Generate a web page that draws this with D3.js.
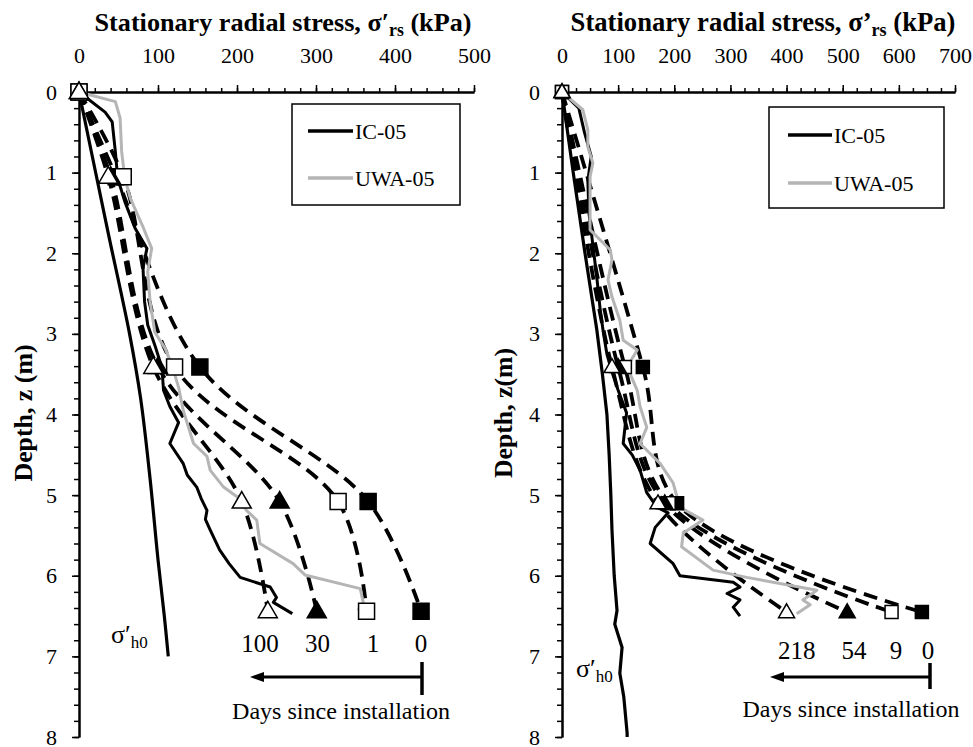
<!DOCTYPE html>
<html>
<head>
<meta charset="utf-8">
<script src="https://cdn.jsdelivr.net/npm/d3@7"></script>
<style>
  body { margin: 0; background: #fff; }
  svg text { font-family: "Liberation Serif", "Times New Roman", serif; fill: #000; }
</style>
</head>
<body>
<svg id="chart" width="973" height="747"></svg>
<script>
// ----------------------------------------------------------------------------
// Data (stress in kPa, depth in m)
// ----------------------------------------------------------------------------

// Left pile: marker depths and stationary stress per time since installation
var leftMarkDepths = [0, 1.05, 3.41, 5.08, 6.44];
var leftDayLabels = ["0", "1", "30", "100"];
var leftDay0 = [0, 47, 153, 366, 433];
var leftDay1 = [0, 56, 121, 328, 364];
var leftDay30 = [0, 40, 100, 254, 301];
var leftDay100 = [0, 37, 94, 206, 239];
var leftDayLabelAt = [433, 372, 302, 229];

// Left pile: measured profiles [stress, depth]
var leftIC = [[0,0],[33,0.25],[42,0.37],[46,0.74],[49,1.07],[58,1.36],[71,1.69],[86,1.94],
  [81,2.18],[83,2.6],[87,2.89],[96,3.14],[105,3.42],[107,3.7],[115,3.9],[126,4.1],[115,4.36],
  [132,4.61],[137,4.75],[149,4.9],[155,5.05],[162,5.19],[160,5.3],[166,5.43],[178,5.68],
  [190,5.85],[204,6.02],[242,6.14],[250,6.27],[246,6.33],[270,6.47]];
var leftUWA = [[0,0],[46,0.12],[52,0.32],[54,0.74],[58,1.07],[65,1.32],[80,1.65],[92,1.94],
  [87,2.23],[90,2.6],[96,2.98],[109,3.18],[118,3.4],[126,3.66],[132,3.95],[145,4.36],
  [162,4.52],[166,4.69],[183,4.9],[200,5.02],[212,5.19],[225,5.31],[229,5.6],[271,5.85],
  [286,5.99],[356,6.16],[360,6.34],[353,6.43]];
var leftH0 = [[0,0],[37,1.75],[64,3.0],[78,3.8],[90,4.8],[100,5.8],[108,6.5],[113,7.0]];

// Right pile
var rightMarkDepths = [0, 3.41, 5.1, 6.45];
var rightDayLabels = ["0", "9", "54", "218"];
var rightDay0 = [0, 144, 205, 641];
var rightDay9 = [0, 112, 190, 587];
var rightDay54 = [0, 100, 183, 508];
var rightDay218 = [0, 89, 171, 400];
var rightDayLabelAt = [652, 595, 520, 418];

var rightIC = [[0,0],[30,0.2],[40,0.5],[52,0.8],[46,1.1],[48,1.5],[55,1.9],[62,2.3],[68,2.7],
  [74,3.0],[80,3.25],[88,3.45],[100,3.7],[115,3.98],[109,4.36],[125,4.5],[139,4.69],[151,4.97],
  [169,5.15],[189,5.22],[166,5.4],[157,5.6],[198,5.85],[210,6.0],[305,6.08],[317,6.14],
  [294,6.22],[317,6.3],[305,6.39],[317,6.5]];
var rightUWA = [[0,0],[37,0.22],[46,0.47],[46,0.68],[55,0.88],[50,1.05],[50,1.71],[86,1.96],
  [89,2.08],[82,2.33],[89,2.54],[103,2.83],[109,3.08],[134,3.2],[116,3.41],[134,3.7],[139,3.9],
  [151,4.16],[139,4.36],[175,4.61],[198,4.85],[210,5.15],[251,5.31],[216,5.47],[213,5.64],
  [269,5.93],[329,6.02],[454,6.18],[429,6.3],[442,6.36],[418,6.47]];
var rightH0 = [[0,0],[20,1],[41,2],[62,2.95],[72,3.5],[80,4.0],[84,4.5],[87,5.0],[89,5.43],
  [93,6.0],[98,6.43],[94,6.6],[107,6.89],[103,7.21],[110,7.5],[116,7.95],[116,8.0]];

var seriesNames = ["IC-05", "UWA-05"];

// ----------------------------------------------------------------------------
// Panel layout
// ----------------------------------------------------------------------------

var FONT = "'Liberation Serif', 'Times New Roman', serif";
var FS = "22px";

var panels = [
  {
    xMax: 500, xMinor: 20, left: 79, right: 474, prime: "\u2032",
    titleX: 283, titleW: 377, yLabel: "Depth, z (m)", yLabelX: 32, yLabelW: 137,
    depths: leftMarkDepths, days: [leftDay0, leftDay1, leftDay30, leftDay100],
    dayLabels: leftDayLabels, dayLabelAt: leftDayLabelAt, dayLabelY: 652,
    ic: leftIC, uwa: leftUWA, h0: leftH0, h0Smooth: true, h0Label: [111, 643],
    sq: 16, tri: 19,
    legend: {x: 292, y: 104, w: 168, h: 101, line0: 308, line1: 353, rowA: 131, rowB: 178},
    arrow: {x0: 250, x1: 422, y: 677, barTop: 662, barBot: 695},
    daysText: [341, 719], daysW: 218
  },
  {
    xMax: 700, xMinor: 25, left: 562, right: 955, prime: "\u2019",
    titleX: 763, titleW: 385, yLabel: "Depth, z(m)", yLabelX: 512, yLabelW: 130,
    depths: rightMarkDepths, days: [rightDay0, rightDay9, rightDay54, rightDay218],
    dayLabels: rightDayLabels, dayLabelAt: rightDayLabelAt, dayLabelY: 659,
    ic: rightIC, uwa: rightUWA, h0: rightH0, h0Smooth: false, h0Label: [576, 677],
    sq: 13, tri: 16,
    legend: {x: 769, y: 107, w: 175, h: 101, line0: 788, line1: 832, rowA: 135, rowB: 183},
    arrow: {x0: 770, x1: 930, y: 677, barTop: 663, barBot: 689},
    daysText: [851, 717], daysW: 217
  }
];

var svg = d3.select("#chart");

// Marker styles for the four time series: filled square, open square,
// filled triangle, open triangle.
var markerTypes = [
  {shape: d3.symbolSquare, fill: "#000"},
  {shape: d3.symbolSquare, fill: "#fff"},
  {shape: d3.symbolTriangle, fill: "#000"},
  {shape: d3.symbolTriangle, fill: "#fff"}
];

function styleAxis(g) {
  g.attr("font-family", null).attr("font-size", null);
  g.select(".domain").attr("stroke", "#000").attr("stroke-width", 2);
  g.selectAll(".tick line").attr("stroke", "#000").attr("stroke-width", 1.5);
  g.selectAll(".tick text").style("font-size", FS).style("font-family", FONT);
}

function addText(g) {
  return g.append("text").style("font-family", FONT).style("font-size", FS);
}

// Scale a text's font size so that it spans the wanted width.
function fitWidth(sel, want) {
  var base = parseFloat(sel.style("font-size"));
  var w = sel.node().getComputedTextLength();
  if (w > 0) sel.style("font-size", (base * want / w).toFixed(2) + "px");
}

function drawPanel(p) {
  var x = d3.scaleLinear().domain([0, p.xMax]).range([p.left, p.right]);
  var y = d3.scaleLinear().domain([0, 8]).range([92, 737]);
  var g = svg.append("g");

  // Title
  var t = addText(g)
      .attr("x", p.titleX).attr("y", 31)
      .attr("text-anchor", "middle")
      .style("font-weight", "bold").style("font-size", "23px");
  t.append("tspan").text("Stationary radial stress, \u03c3" + p.prime);
  t.append("tspan").attr("dy", 5).style("font-size", "0.68em").text("rs");
  t.append("tspan").attr("dy", -5).text(" (kPa)");
  fitWidth(t, p.titleW);

  // Y label
  var yl = addText(g)
      .attr("transform", "translate(" + p.yLabelX + ",413) rotate(-90)")
      .attr("text-anchor", "middle")
      .style("font-weight", "bold").style("font-size", "24px")
      .text(p.yLabel);
  fitWidth(yl, p.yLabelW);

  // Axes: minor ticks first, then majors with labels
  g.append("g").attr("transform", "translate(0,92)")
      .call(d3.axisTop(x).tickValues(d3.range(0, p.xMax / p.xMinor + 1).map(function(i) { return i * p.xMinor; }))
        .tickSize(4).tickSizeOuter(0).tickFormat(""))
      .call(styleAxis);
  g.append("g").attr("transform", "translate(0,92)")
      .call(d3.axisTop(x).tickValues(d3.range(0, p.xMax + 1, 100))
        .tickSize(7).tickSizeOuter(0).tickPadding(22))
      .call(styleAxis);

  g.append("g").attr("transform", "translate(" + p.left + ",0)")
      .call(d3.axisLeft(y).tickValues(d3.range(0, 41).map(function(i) { return i / 5; }))
        .tickSize(5).tickSizeOuter(0).tickFormat(""))
      .call(styleAxis);
  g.append("g").attr("transform", "translate(" + p.left + ",0)")
      .call(d3.axisLeft(y).tickValues(d3.range(0, 9))
        .tickSize(7).tickSizeOuter(0).tickPadding(15))
      .call(styleAxis);

  var line = d3.line().x(function(d) { return x(d[0]); }).y(function(d) { return y(d[1]); });
  var smooth = d3.line().curve(d3.curveCatmullRom)
      .x(function(d) { return x(d[0]); }).y(function(d) { return y(d[1]); });

  // In-situ horizontal stress
  g.append("path").datum(p.h0).attr("d", p.h0Smooth ? smooth : line)
      .attr("fill", "none").attr("stroke", "#000").attr("stroke-width", 3.2);

  // Dashed time curves
  p.days.forEach(function(vals) {
    var pts = vals.map(function(v, i) { return [v, p.depths[i]]; });
    g.append("path").datum(pts).attr("d", smooth)
        .attr("fill", "none").attr("stroke", "#000")
        .attr("stroke-width", 3.8).attr("stroke-dasharray", "14,8");
  });

  // Measured profiles
  g.append("path").datum(p.ic).attr("d", line)
      .attr("fill", "none").attr("stroke", "#000").attr("stroke-width", 3)
      .attr("stroke-linejoin", "round");
  g.append("path").datum(p.uwa).attr("d", line)
      .attr("fill", "none").attr("stroke", "#b5b5b5").attr("stroke-width", 3)
      .attr("stroke-linejoin", "round");

  // Markers
  p.days.forEach(function(vals, k) {
    var m = markerTypes[k];
    var isTri = m.shape === d3.symbolTriangle;
    var size = isTri ? Math.sqrt(3) / 4 * p.tri * p.tri : p.sq * p.sq;
    var sym = d3.symbol().type(m.shape).size(size);
    g.selectAll(null).data(vals).enter().append("path")
        .attr("d", sym)
        .attr("transform", function(d, i) {
          return "translate(" + x(d) + "," + (y(p.depths[i]) + (isTri ? 1 : 0)) + ")";
        })
        .attr("fill", m.fill).attr("stroke", "#000").attr("stroke-width", 1.5);
  });

  // Day labels
  g.selectAll(null).data(p.dayLabels).enter().append("text")
      .attr("x", function(d, i) { return x(p.dayLabelAt[i]); })
      .attr("y", p.dayLabelY)
      .attr("text-anchor", "middle")
      .style("font-family", FONT).style("font-size", "25px")
      .text(function(d) { return d; });

  // Arrow: days since installation
  var a = p.arrow;
  g.append("line").attr("x1", a.x0 + 10).attr("x2", a.x1).attr("y1", a.y).attr("y2", a.y)
      .attr("stroke", "#000").attr("stroke-width", 3);
  g.append("path")
      .attr("d", "M" + a.x0 + "," + a.y + "L" + (a.x0 + 14) + "," + (a.y - 5) + "L" + (a.x0 + 14) + "," + (a.y + 5) + "Z")
      .attr("fill", "#000");
  g.append("line").attr("x1", a.x1).attr("x2", a.x1).attr("y1", a.barTop).attr("y2", a.barBot)
      .attr("stroke", "#000").attr("stroke-width", 3.5);
  var dt = addText(g).attr("x", p.daysText[0]).attr("y", p.daysText[1])
      .attr("text-anchor", "middle").style("font-size", "24px")
      .text("Days since installation");
  fitWidth(dt, p.daysW);

  // sigma'h0 label
  var h = addText(g).attr("x", p.h0Label[0]).attr("y", p.h0Label[1]).style("font-size", "26px");
  h.append("tspan").text("\u03c3\u2032");
  h.append("tspan").attr("dy", 5).style("font-size", "17px").text("h0");

  // Legend
  var L = p.legend;
  g.append("rect").attr("x", L.x).attr("y", L.y).attr("width", L.w).attr("height", L.h)
      .attr("fill", "#fff").attr("stroke", "#000").attr("stroke-width", 1.5);
  [[L.rowA, "#000"], [L.rowB, "#b5b5b5"]].forEach(function(r, i) {
    g.append("line").attr("x1", L.line0).attr("x2", L.line1).attr("y1", r[0]).attr("y2", r[0])
        .attr("stroke", r[1]).attr("stroke-width", 3.5);
    addText(g).attr("x", L.line1 + 2).attr("y", r[0] + 8).text(seriesNames[i]);
  });
}

panels.forEach(drawPanel);
</script>
</body>
</html>
